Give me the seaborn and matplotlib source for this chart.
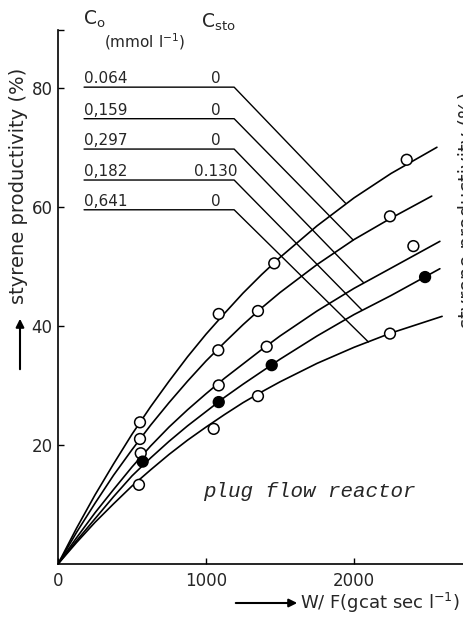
import numpy as np
import pandas as pd
import matplotlib
matplotlib.use('Agg')
import matplotlib.pyplot as plt
import seaborn as sns

# feed concentrations shown in the little table (as printed)
co_labels = ['0.064', '0,159', '0,297', '0,182', '0,641']
csto_labels = ['0', '0', '0', '0.130', '0']
filled = [False, False, False, True, False]

# measured points: W/F (gcat sec/l) and styrene productivity (%)
wf_points = [
    [554, 1086, 1461, 2356],
    [554, 1083, 1351, 2243],
    [559, 1086, 1410, 2401],
    [572, 1086, 1444, 2480],
    [547, 1052, 1351, 2243],
]
prod_points = [
    [23.8, 42.0, 50.5, 67.9],
    [21.0, 35.9, 42.5, 58.4],
    [18.6, 30.0, 36.5, 53.4],
    [17.2, 27.2, 33.4, 48.2],
    [13.3, 22.7, 28.2, 38.7],
]

# drawn curves
curve_wf = [0, 125, 250, 375, 500, 625, 750, 875, 1000, 1125, 1250, 1375, 1500, 1750, 2000, 2250]
curve_end_wf = [2560, 2525, 2580, 2580, 2595]
curve_prod = [
    [0, 6.0, 11.6, 16.8, 21.8, 26.4, 30.7, 34.8, 38.6, 42.1, 45.5, 48.6, 51.5, 56.8, 61.5, 65.6, 70.0],
    [0, 5.3, 10.2, 14.9, 19.2, 23.3, 27.1, 30.7, 34.1, 37.2, 40.2, 43.0, 45.6, 50.3, 54.5, 58.1, 61.8],
    [0, 4.4, 8.6, 12.5, 16.3, 19.8, 23.0, 25.9, 28.6, 31.2, 33.6, 36.0, 38.3, 42.5, 46.3, 49.7, 54.2],
    [0, 3.9, 7.6, 11.3, 14.8, 17.8, 20.6, 23.2, 25.6, 28.0, 30.2, 32.3, 34.4, 38.3, 41.9, 45.1, 49.6],
    [0, 3.6, 7.0, 10.1, 13.1, 15.8, 18.4, 20.8, 23.0, 25.1, 27.1, 28.9, 30.6, 33.7, 36.4, 38.8, 41.6],
]

# leader lines from table rows to the curves
label_rows = [80.1, 74.8, 69.7, 64.5, 59.5]
leader_start_wf = 176
leader_knee_wf = 1190
leader_end_wf = [1943, 1995, 2063, 2052, 2097]
leader_end_prod = [60.6, 54.4, 47.3, 42.7, 37.3]

sns.set_style('ticks')
plt.rcParams['font.family'] = ['DejaVu Sans']

curves = pd.concat([
    pd.DataFrame({'wf': curve_wf + [curve_end_wf[i]], 'prod': curve_prod[i], 'series': i})
    for i in range(len(curve_prod))
])
points = pd.concat([
    pd.DataFrame({'wf': wf_points[i], 'prod': prod_points[i], 'series': i, 'filled': filled[i]})
    for i in range(len(wf_points))
])

fig = plt.figure(figsize=(4.64, 6.18), dpi=100)
ax = fig.add_axes([58 / 464, 54 / 618, 1 - 58 / 464, (564 - 30) / 618])

sns.lineplot(data=curves, x='wf', y='prod', units='series', estimator=None, sort=False,
             color='black', lw=1.2, ax=ax)
sns.scatterplot(data=points, x='wf', y='prod', hue='filled',
                palette={False: 'white', True: 'black'}, edgecolor='black',
                s=60, linewidth=1.1, legend=False, zorder=3, ax=ax)

for i, row in enumerate(label_rows):
    ax.plot([leader_start_wf, leader_knee_wf, leader_end_wf[i]],
            [row, row, leader_end_prod[i]], color='black', lw=1.0, clip_on=False)
    ax.text(leader_start_wf, row + 0.7, co_labels[i], fontsize=11, ha='left', va='baseline')
    ax.text(1068, row + 0.7, csto_labels[i], fontsize=11, ha='center', va='baseline')

ax.text(169, 90.6, r'$\mathregular{C_o}$', fontsize=13.5, ha='left', va='baseline', clip_on=False)
ax.text(966, 90.1, r'$\mathregular{C_{sto}}$', fontsize=13.5, ha='left', va='baseline', clip_on=False)
ax.text(311, 86.7, r'(mmol l$^{\mathregular{-1}}$)', fontsize=11, ha='left', va='baseline')
ax.text(980, 11.3, 'plug flow reactor', fontsize=15, family='Liberation Mono',
        style='italic', ha='left', va='baseline')

ax.set_xlim(0, 2743)
ax.set_ylim(0, 89.7)
ax.set_xticks([0, 1000, 2000])
ax.set_yticks([20, 40, 60, 80])
ax.set_yticks([89.7], minor=True)
ax.set_xlabel('')
ax.set_ylabel('')
ax.tick_params(which='both', direction='in', length=4, width=1.0, labelsize=12, color='black')
ax.tick_params(axis='x', pad=6)
ax.tick_params(axis='y', pad=4)
for side in ['top', 'right']:
    ax.spines[side].set_visible(False)
for side in ['left', 'bottom']:
    ax.spines[side].set_linewidth(1.2)
    ax.spines[side].set_color('black')

# axis titles with arrows, as in the printed figure
fig.text(19 / 464, 1 - 186 / 618, 'styrene productivity (%)', rotation=90,
         fontsize=14, ha='center', va='center')
fig.patches.append(matplotlib.patches.FancyArrowPatch(
    (20 / 464, 1 - 372 / 618), (20 / 464, 1 - 316 / 618), transform=fig.transFigure,
    arrowstyle='-|>', mutation_scale=12, lw=1.5, color='black'))
fig.text(300 / 464, 1 - 603 / 618, r'W/ F(gcat sec l$^{\mathregular{-1}}$)',
         fontsize=13, ha='left', va='center')
fig.patches.append(matplotlib.patches.FancyArrowPatch(
    (233 / 464, 1 - 603 / 618), (300 / 464, 1 - 603 / 618), transform=fig.transFigure,
    arrowstyle='-|>', mutation_scale=12, lw=1.5, color='black'))

# edge of the neighbouring figure's axis title
fig.text(468 / 464, 1 - 210 / 618, 'styrene productivity (%)', rotation=90,
         fontsize=14, ha='center', va='center')

fig.savefig('out.png', dpi=100)
